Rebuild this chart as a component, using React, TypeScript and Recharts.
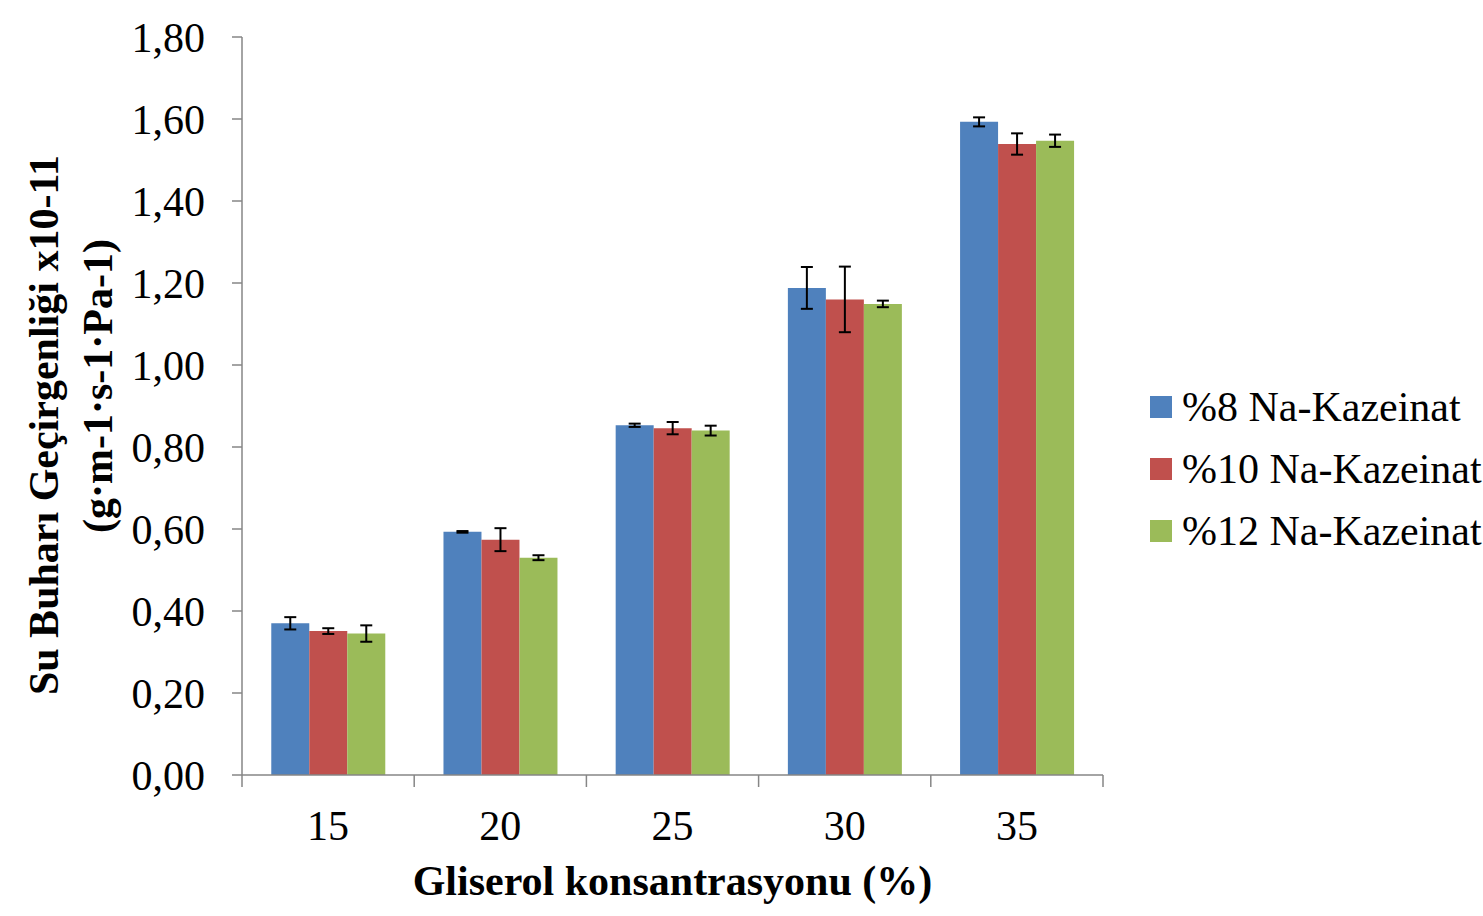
import { Bar, BarChart, ErrorBar, XAxis, YAxis } from "recharts"

const categories = ["15", "20", "25", "30", "35"]
const na8 = [0.37, 0.593, 0.853, 1.188, 1.593]
const na10 = [0.351, 0.574, 0.846, 1.16, 1.539]
const na12 = [0.345, 0.53, 0.84, 1.149, 1.547]
const err8 = [0.015, 0.002, 0.004, 0.051, 0.011]
const err10 = [0.007, 0.028, 0.015, 0.08, 0.026]
const err12 = [0.02, 0.006, 0.012, 0.008, 0.015]
const yTicks = [0, 0.2, 0.4, 0.6, 0.8, 1.0, 1.2, 1.4, 1.6, 1.8]

const seriesNames = ["%8 Na-Kazeinat", "%10 Na-Kazeinat", "%12 Na-Kazeinat"]
const colors = ["#4F81BD", "#C0504D", "#9BBB59"]

const data = categories.map((c, i) => ({
  name: c,
  b8: na8[i],
  b10: na10[i],
  b12: na12[i],
  e8: err8[i],
  e10: err10[i],
  e12: err12[i],
}))

const serif = "'Liberation Serif', 'Times New Roman', serif"
const axisGray = "#868686"

function XTick(props: any) {
  const { x, y, payload, index } = props
  const half = payload.offset ?? 86
  return (
    <g>
      <line x1={x - half} y1={y} x2={x - half} y2={y + 12} stroke={axisGray} strokeWidth={1.5} />
      {index === categories.length - 1 && (
        <line x1={x + half} y1={y} x2={x + half} y2={y + 12} stroke={axisGray} strokeWidth={1.5} />
      )}
      <text x={x} y={y + 65} textAnchor="middle" fontFamily={serif} fontSize={42} fill="#000">
        {payload.value}
      </text>
    </g>
  )
}

function XTitle(props: any) {
  const { viewBox } = props
  return (
    <text
      x={viewBox.x + viewBox.width / 2}
      y={viewBox.y + 120}
      textAnchor="middle"
      fontFamily={serif}
      fontWeight="bold"
      fontSize={42}
      fill="#000"
    >
      Gliserol konsantrasyonu (%)
    </text>
  )
}

function YTitle() {
  return (
    <g fontFamily={serif} fontWeight="bold" fontSize={42} fill="#000">
      <text x={58} y={425} textAnchor="middle" transform="rotate(-90 58 425)">
        Su Buharı Geçirgenliği x10-11
      </text>
      <text x={112} y={386} textAnchor="middle" transform="rotate(-90 112 386)">
        (g·m-1·s-1·Pa-1)
      </text>
    </g>
  )
}

export default function App() {
  return (
    <div style={{ position: "absolute", left: 0, top: 0, width: 1483, height: 916, background: "#fff", overflow: "hidden" }}>
      <BarChart
        width={1483}
        height={916}
        data={data}
        margin={{ top: 37, right: 380, left: 0, bottom: 0 }}
        barCategoryGap="17%"
        barGap={0}
      >
        <XAxis
          dataKey="name"
          height={141}
          axisLine={{ stroke: axisGray, strokeWidth: 1.5 }}
          tickLine={false}
          tickSize={0}
          tickMargin={0}
          tick={<XTick />}
          interval={0}
          label={<XTitle />}
        />
        <YAxis
          width={242}
          domain={[0, 1.8]}
          ticks={yTicks}
          interval={0}
          axisLine={{ stroke: axisGray, strokeWidth: 1.5 }}
          tickLine={{ stroke: axisGray, strokeWidth: 1.5 }}
          tickSize={10}
          tickMargin={27}
          tickFormatter={(v: number) => v.toFixed(2).replace(".", ",")}
          tick={{ fontFamily: serif, fontSize: 42, fill: "#000" }}
          label={<YTitle />}
        />
        <Bar dataKey="b8" fill={colors[0]} isAnimationActive={false}>
          <ErrorBar dataKey="e8" width={6} strokeWidth={2} stroke="#000" direction="y" isAnimationActive={false} />
        </Bar>
        <Bar dataKey="b10" fill={colors[1]} isAnimationActive={false}>
          <ErrorBar dataKey="e10" width={6} strokeWidth={2} stroke="#000" direction="y" isAnimationActive={false} />
        </Bar>
        <Bar dataKey="b12" fill={colors[2]} isAnimationActive={false}>
          <ErrorBar dataKey="e12" width={6} strokeWidth={2} stroke="#000" direction="y" isAnimationActive={false} />
        </Bar>
      </BarChart>
      <div style={{ position: "absolute", left: 1150, top: 376, fontFamily: serif, fontSize: 42, color: "#000", whiteSpace: "nowrap" }}>
        {seriesNames.map((n, i) => (
          <div key={n} style={{ display: "flex", alignItems: "center", height: 62 }}>
            <span style={{ display: "inline-block", width: 22, height: 22, background: colors[i], marginRight: 10 }} />
            <span>{n}</span>
          </div>
        ))}
      </div>
    </div>
  )
}
